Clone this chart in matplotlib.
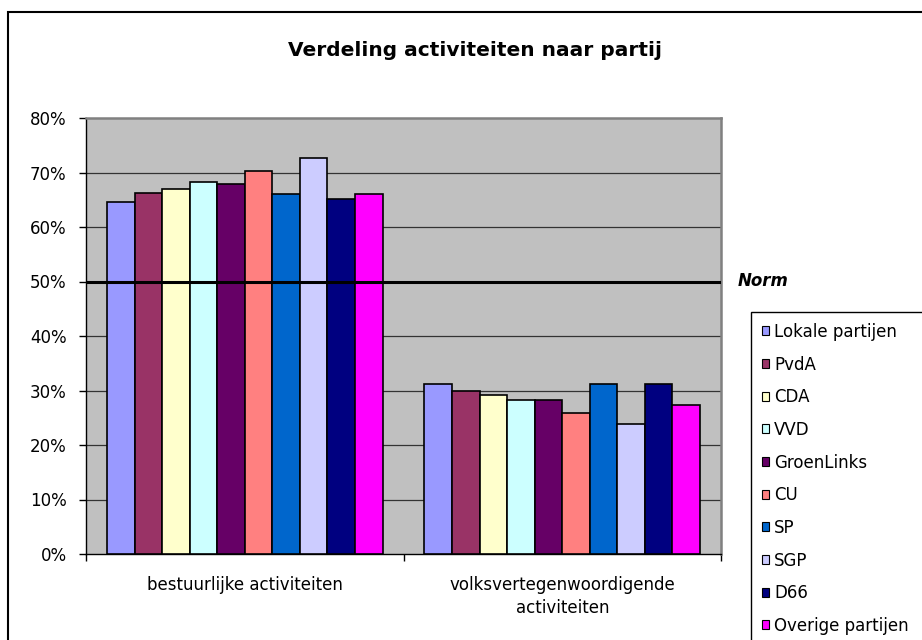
import matplotlib
matplotlib.use("Agg")
import matplotlib.pyplot as plt
from matplotlib.patches import Rectangle
from matplotlib.ticker import FuncFormatter
import numpy as np

plt.rcParams['font.family'] = ['DejaVu Sans']

categories = ["bestuurlijke activiteiten", "volksvertegenwoordigende\nactiviteiten"]
parties = ["Lokale partijen", "PvdA", "CDA", "VVD", "GroenLinks", "CU", "SP", "SGP", "D66", "Overige partijen"]
bestuurlijk = [0.645, 0.663, 0.669, 0.682, 0.678, 0.703, 0.661, 0.726, 0.651, 0.661]
volks = [0.312, 0.300, 0.291, 0.282, 0.282, 0.258, 0.312, 0.239, 0.312, 0.273]
colors = ["#9999FF", "#993366", "#FFFFCC", "#CCFFFF", "#660066", "#FF8080", "#0066CC", "#CCCCFF", "#000080", "#FF00FF"]
norm = 0.50
yticks = [0, 0.1, 0.2, 0.3, 0.4, 0.5, 0.6, 0.7, 0.8]
title = "Verdeling activiteiten naar partij"

W, H = 922, 640
fig = plt.figure(figsize=(W / 100, H / 100), dpi=100)
fig.patch.set_facecolor("white")

# outer chart border
fig.patches.append(Rectangle((8 / W, -0.05), 1.1, 1 - 12 / H + 0.05, transform=fig.transFigure,
                             fill=False, edgecolor="black", linewidth=1.5, zorder=0))

left, right, top, bottom = 86, 721, 118, 554
ax = fig.add_axes([left / W, 1 - bottom / H, (right - left) / W, (bottom - top) / H])
ax.set_facecolor("#C0C0C0")

x = np.arange(len(categories))
bw = 0.0868
vals = np.array([bestuurlijk, volks]).T
for i, (p, c) in enumerate(zip(parties, colors)):
    ax.bar(x + (i - 4.5) * bw, vals[i], width=bw, color=c, edgecolor="black", linewidth=1.2,
           label=p, zorder=3)

ax.set_xlim(-0.5, 1.5)
ax.set_ylim(0, 0.8)
ax.set_yticks(yticks)
ax.yaxis.set_major_formatter(FuncFormatter(lambda v, _: f"{v*100:.0f}%"))
for v in yticks[1:-1]:
    ax.axhline(v, color="#333333", linewidth=0.9, zorder=1)
ax.axhline(norm, color="black", linewidth=2.2, zorder=4)

ax.set_xticks([-0.5, 0.5, 1.5])
ax.set_xticklabels([])
ax.set_xticks(x, minor=True)
ax.set_xticklabels(categories, minor=True, fontsize=12)
ax.tick_params(axis="x", which="minor", length=0, pad=16)
ax.tick_params(axis="x", which="major", length=5, direction="out", width=1)
ax.tick_params(axis="y", length=5, direction="out", width=1, labelsize=12, pad=9)
for lbl in ax.get_xticklabels(minor=True):
    lbl.set_linespacing(1.35)

for s in ["left", "bottom"]:
    ax.spines[s].set_color("black")
    ax.spines[s].set_linewidth(1)
for s in ["top", "right"]:
    ax.spines[s].set_color("#808080")
    ax.spines[s].set_linewidth(1.8)

fig.text(475 / W, 1 - 50 / H, title, ha="center", va="center", fontsize=14.5, fontweight="bold")
fig.text(738 / W, 1 - 281 / H, "Norm", ha="left", va="center", fontsize=12,
         fontweight="bold", fontstyle="italic")

leg = ax.legend(loc="upper left", bbox_to_anchor=(751 / W, 0, (935 - 751) / W, 1 - 312 / H),
                bbox_transform=fig.transFigure, mode="expand",
                fontsize=12, frameon=True, fancybox=False, edgecolor="black", framealpha=1,
                handlelength=0.45, handleheight=0.45, handletextpad=0.3, labelspacing=0.88,
                borderpad=0.65, borderaxespad=0)
leg.get_frame().set_linewidth(1)
for h in leg.legend_handles:
    h.set_linewidth(0.8)

fig.savefig("out.png", dpi=100)
